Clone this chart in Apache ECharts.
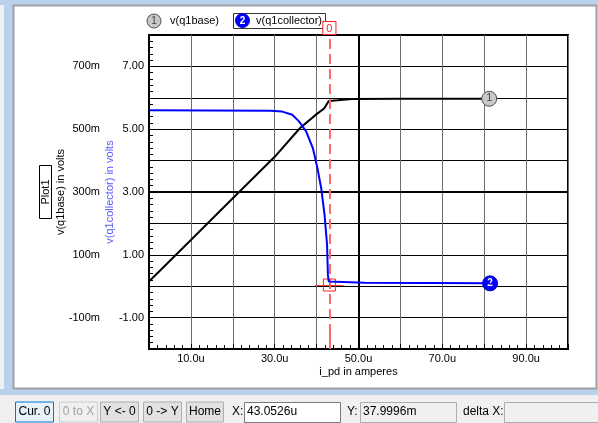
<!DOCTYPE html>
<html>
<head>
<meta charset="utf-8">
<script src="https://cdn.jsdelivr.net/npm/echarts@6/dist/echarts.min.js"></script>
<style>
  html, body { margin: 0; padding: 0; background: #ffffff; }
  #chart { width: 598px; height: 423px; }
</style>
</head>
<body>
<div id="chart"></div>
<script>
// v(q1base) trace, x in uA, y in volts (left scale, m)
const baseX = [0, 10, 20, 30, 36, 40, 41.8, 42.9, 45, 48.5, 60, 81.2];
const baseY = [0.015, 0.147, 0.280, 0.412, 0.503, 0.548, 0.566, 0.590, 0.592, 0.596, 0.597, 0.597];

// v(q1collector) trace, x in uA, y in volts
const collX = [0, 29, 31.8, 34.2, 35.8, 37.5, 39.1, 40.2, 41.1, 41.9, 42.5, 42.7, 42.9, 43.05, 51.5, 81.4];
const collY = [5.60, 5.59, 5.56, 5.46, 5.25, 4.93, 4.40, 3.76, 3.12, 2.27, 1.31, 0.36, 0.15, 0.12, 0.11, 0.09];

const xLabels = [10, 30, 50, 70, 90];
const collLabels = [7, 5, 3, 1, -1];
const baseLabels = [700, 500, 300, 100, -100];

const cursorX = 43.0526;
const cursorY = 0.038;

const FONT = 'Liberation Sans, Arial, sans-serif';

let chart = echarts.init(document.getElementById('chart'), null, { renderer: 'canvas' });

function zip(xs, ys) {
  let out = [];
  for (let i = 0; i < xs.length; i++) out.push([xs[i], ys[i]]);
  return out;
}

function button(x, w, label, opts) {
  opts = opts || {};
  return [{
    type: 'rect', z: 5,
    shape: { x: x, y: 402, width: w, height: 20 },
    style: { fill: opts.fill || '#e1e1e1', stroke: opts.stroke || '#adadad', lineWidth: 1 }
  }, {
    type: 'text', z: 6,
    x: x + w / 2, y: 412,
    style: { text: label, fill: opts.color || '#000', font: '12px ' + FONT, align: 'center', verticalAlign: 'middle' }
  }];
}

let chrome = [
  // window frame
  { type: 'rect', z: -10, shape: { x: 0, y: 0, width: 598, height: 423 }, style: { fill: '#f0f0f0' } },
  { type: 'rect', z: -9, shape: { x: 0, y: 0, width: 598, height: 5 }, style: { fill: '#b9d1ea' } },
  { type: 'rect', z: -9, shape: { x: 4, y: 0, width: 9, height: 395 }, style: { fill: '#b9d1ea' } },
  { type: 'rect', z: -9, shape: { x: 0, y: 389, width: 598, height: 6 }, style: { fill: '#b9d1ea' } },
  { type: 'rect', z: -8, shape: { x: 13.5, y: 5.5, width: 583, height: 383 }, style: { fill: '#ffffff', stroke: '#a0a0a0', lineWidth: 2 } },

  // Plot1 tag
  { type: 'rect', z: 5, shape: { x: 39.5, y: 165.5, width: 12, height: 53 }, style: { fill: '#fff', stroke: '#000', lineWidth: 1 } },
  { type: 'text', z: 6, x: 45.5, y: 192, rotation: Math.PI / 2,
    style: { text: 'Plot1', fill: '#000', font: '11px ' + FONT, align: 'center', verticalAlign: 'middle' } },

  // legend
  { type: 'circle', z: 5, shape: { cx: 154, cy: 21, r: 7 }, style: { fill: '#c8c8c8', stroke: '#505050', lineWidth: 1 } },
  { type: 'text', z: 6, x: 154, y: 21.5, style: { text: '1', fill: '#404040', font: '10px ' + FONT, align: 'center', verticalAlign: 'middle' } },
  { type: 'text', z: 6, x: 170, y: 21, style: { text: 'v(q1base)', fill: '#000', font: '11px ' + FONT, verticalAlign: 'middle' } },
  { type: 'rect', z: 5, shape: { x: 233.5, y: 13.5, width: 92, height: 15 }, style: { fill: '#fff', stroke: '#333', lineWidth: 1 } },
  { type: 'circle', z: 6, shape: { cx: 242.5, cy: 20.5, r: 7 }, style: { fill: '#0000ff', stroke: '#0000c0', lineWidth: 1 } },
  { type: 'text', z: 7, x: 242.5, y: 21, style: { text: '2', fill: '#fff', font: 'bold 10px ' + FONT, align: 'center', verticalAlign: 'middle' } },
  { type: 'text', z: 6, x: 256, y: 21, style: { text: 'v(q1collector)', fill: '#000', font: '11px ' + FONT, verticalAlign: 'middle' } }
];

// toolbar
chrome = chrome
  .concat(button(15.5, 38, 'Cur. 0', { fill: '#e5f1fb', stroke: '#0078d7' }))
  .concat(button(59.5, 38, '0 to X', { fill: '#f0f0f0', stroke: '#cccccc', color: '#a0a0a0' }))
  .concat(button(100.5, 38, 'Y <- 0'))
  .concat(button(143.5, 38, '0 -> Y'))
  .concat(button(186.5, 37, 'Home'))
  .concat([
    { type: 'text', z: 6, x: 232, y: 412, style: { text: 'X:', fill: '#000', font: '12px ' + FONT, verticalAlign: 'middle' } },
    { type: 'rect', z: 5, shape: { x: 244.5, y: 402.5, width: 96, height: 20 }, style: { fill: '#fff', stroke: '#7a7a7a', lineWidth: 1 } },
    { type: 'text', z: 6, x: 247, y: 412, style: { text: '43.0526u', fill: '#000', font: '12px ' + FONT, verticalAlign: 'middle' } },
    { type: 'text', z: 6, x: 347, y: 412, style: { text: 'Y:', fill: '#000', font: '12px ' + FONT, verticalAlign: 'middle' } },
    { type: 'rect', z: 5, shape: { x: 360.5, y: 402.5, width: 96, height: 20 }, style: { fill: '#f0f0f0', stroke: '#adadad', lineWidth: 1 } },
    { type: 'text', z: 6, x: 363, y: 412, style: { text: '37.9996m', fill: '#000', font: '12px ' + FONT, verticalAlign: 'middle' } },
    { type: 'text', z: 6, x: 463, y: 412, style: { text: 'delta X:', fill: '#000', font: '12px ' + FONT, verticalAlign: 'middle' } },
    { type: 'rect', z: 5, shape: { x: 504.5, y: 402.5, width: 100, height: 20 }, style: { fill: '#f0f0f0', stroke: '#adadad', lineWidth: 1 } }
  ]);

let option = {
  animation: false,
  backgroundColor: 'transparent',
  textStyle: { fontFamily: FONT },
  graphic: chrome,
  grid: {
    left: 149, top: 35, width: 419, height: 314,
    show: true, borderColor: '#000', borderWidth: 2
  },
  xAxis: {
    type: 'value', min: 0, max: 100, interval: 10, z: 4,
    name: 'i_pd in amperes', nameLocation: 'middle', nameGap: 17, nameMoveOverlap: false,
    nameTextStyle: { color: '#000', fontSize: 11 },
    axisLine: { show: true, onZero: false, lineStyle: { color: '#000', width: 2 } },
    axisTick: { show: true, inside: true, length: 5, lineStyle: { color: '#000', width: 1 } },
    minorTick: { show: true, splitNumber: 5, length: 4, lineStyle: { color: '#000', width: 1 } },
    axisLabel: {
      color: '#000', fontSize: 11, margin: 4,
      formatter: v => xLabels.indexOf(Math.round(v)) >= 0 ? v.toFixed(1) + 'u' : ''
    },
    splitLine: { show: true, lineStyle: { color: '#6e6e6e', width: 1 } }
  },
  yAxis: [{
    type: 'value', min: -2, max: 8, interval: 1, position: 'left', z: 4,
    name: 'v(q1collector) in volts', nameLocation: 'middle', nameRotate: 90, nameGap: 34, nameMoveOverlap: false,
    nameTextStyle: { color: '#5a5aff', fontSize: 11 },
    axisLine: { show: true, onZero: false, lineStyle: { color: '#000', width: 2 } },
    axisTick: { show: true, inside: true, length: 6, lineStyle: { color: '#000', width: 1 } },
    minorTick: { show: true, splitNumber: 5, length: 4, lineStyle: { color: '#000', width: 1 } },
    axisLabel: {
      color: '#000', fontSize: 11, margin: 5,
      formatter: v => collLabels.indexOf(Math.round(v)) >= 0 ? v.toFixed(2) : ''
    },
    splitLine: { show: true, lineStyle: { color: '#000', width: 1 } }
  }, {
    type: 'value', min: -0.2, max: 0.8, interval: 0.1, position: 'left', offset: 44,
    name: 'v(q1base) in volts', nameLocation: 'middle', nameRotate: 90, nameGap: 39, nameMoveOverlap: false,
    nameTextStyle: { color: '#000', fontSize: 11 },
    axisLine: { show: false },
    axisTick: { show: false },
    axisLabel: {
      color: '#000', fontSize: 11, margin: 5,
      formatter: v => {
        let m = Math.round(v * 1000);
        return baseLabels.indexOf(m) >= 0 ? m + 'm' : '';
      }
    },
    splitLine: { show: false }
  }],
  series: [{
    name: 'v(q1base)', type: 'line', yAxisIndex: 1, z: 4,
    data: zip(baseX, baseY),
    showSymbol: false, lineStyle: { color: '#000', width: 2 },
    markPoint: {
      symbol: 'circle', symbolSize: 15,
      itemStyle: { color: '#c8c8c8', borderColor: '#505050', borderWidth: 1 },
      label: { show: true, formatter: '1', color: '#404040', fontSize: 10 },
      data: [{ coord: [baseX[baseX.length - 1], baseY[baseY.length - 1]] }]
    }
  }, {
    name: 'v(q1collector)', type: 'line', yAxisIndex: 0, z: 5,
    data: zip(collX, collY),
    showSymbol: false, lineStyle: { color: '#0000ff', width: 2 },
    markLine: {
      silent: true, symbol: 'none', animation: false,
      data: [
        [{ coord: [50, -2], lineStyle: { color: '#000', width: 2, type: 'solid' } }, { coord: [50, 8] }],
        [{ coord: [0, 3], lineStyle: { color: '#000', width: 2, type: 'solid' } }, { coord: [100, 3] }],
        [{ coord: [cursorX, -2], lineStyle: { color: '#ff6a6a', width: 2, type: [10, 5] },
           label: { show: true, position: 'end', formatter: '0', color: '#ff2020', fontSize: 11,
                    backgroundColor: '#fff', borderColor: '#ff2020', borderWidth: 1, padding: [1, 3, 0, 3], distance: 1 } },
         { coord: [cursorX, 8] }],
        [{ coord: [cursorX, -2], lineStyle: { color: '#ff6a6a', width: 2, type: 'solid' }, label: { show: false } },
         { coord: [cursorX, -1.45] }],
        [{ coord: [cursorX - 3.4, cursorY], lineStyle: { color: '#ff4040', width: 1, type: 'solid' }, label: { show: false } },
         { coord: [cursorX + 3.4, cursorY] }]
      ]
    },
    markPoint: {
      data: [{
        coord: [collX[collX.length - 1], collY[collY.length - 1]],
        symbol: 'circle', symbolSize: 15,
        itemStyle: { color: '#0000ff', borderColor: '#0000c0', borderWidth: 1 },
        label: { show: true, formatter: '2', color: '#fff', fontSize: 10, fontWeight: 'bold' }
      }, {
        coord: [cursorX, cursorY],
        symbol: 'rect', symbolSize: 12,
        itemStyle: { color: 'rgba(0,0,0,0)', borderColor: '#ff2020', borderWidth: 1 },
        label: { show: false }
      }]
    }
  }]
};

chart.setOption(option);
</script>
</body>
</html>
